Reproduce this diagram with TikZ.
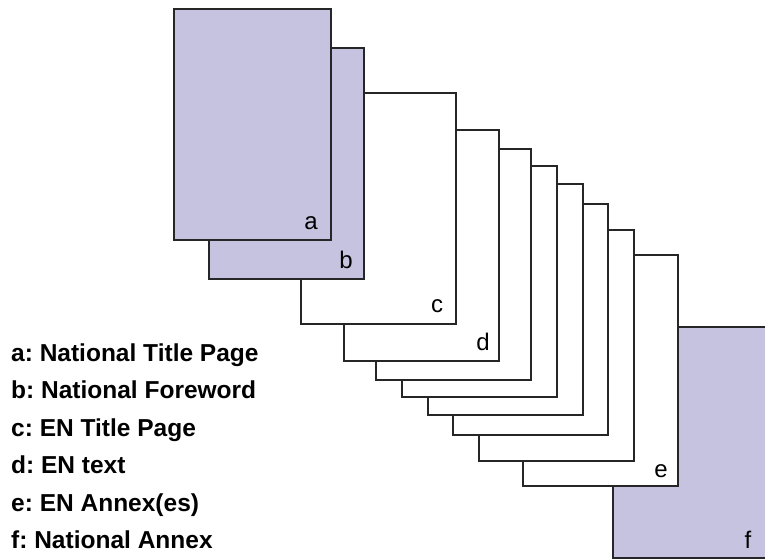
\documentclass[tikz,border=0pt]{standalone}
\usepackage{fontspec}
\setmainfont{Liberation Sans}
\usetikzlibrary{positioning}
\definecolor{national}{RGB}{197,195,224}
\frenchspacing

\begin{document}
\begin{tikzpicture}[x=1pt,y=-1pt,
    page/.style={rectangle,draw=black!85,line width=1.7pt,fill=white,anchor=north west,
                 inner sep=0pt,outer sep=0pt,minimum width=155pt,minimum height=231pt},
    nat page/.style={page,fill=national},
    letter/.style={anchor=base,inner sep=0pt,font=\fontsize{24}{24}\selectfont},
    key/.style={anchor=base west,inner sep=0pt,font=\fontsize{24.5}{24.5}\selectfont\bfseries}]
  \useasboundingbox (0,0) rectangle (765,559);

  % pages, back to front
  \node[nat page] (f)  at (613,327) {};
  \node[page]     (e)  at (523,255) {};
  \node[page]     (d5) at (479,230) {};
  \node[page]     (d4) at (453,204) {};
  \node[page]     (d3) at (428,184) {};
  \node[page]     (d2) at (402,166) {};
  \node[page]     (d1) at (376,149) {};
  \node[page]     (d)  at (344,130) {};
  \node[page]     (c)  at (301,93)  {};
  \node[nat page] (b)  at (209,48)  {};
  \node[nat page,minimum width=157pt] (a) at (174,9) {};

  % page letters
  \node[letter] (la) at ([xshift=-20pt,yshift=11pt]a.south east) {a};
  \node[letter] (lb) at ([xshift=-18pt,yshift=11pt]b.south east) {b};
  \node[letter] (lc) at ([xshift=-19pt,yshift=12pt]c.south east) {c};
  \node[letter] (ld) at ([xshift=-16pt,yshift=11pt]d.south east) {d};
  \node[letter] (le) at ([xshift=-17pt,yshift=9pt]e.south east)  {e};
  \node[letter] (lf) at ([xshift=-20pt,yshift=10pt]f.south east) {f};

  % key
  \node[key] (ka) at (11,361)   {a: National Title Page};
  \node[key] (kb) at (11,398.5) {b: National Foreword};
  \node[key] (kc) at (11,436)   {c: EN Title Page};
  \node[key] (kd) at (11,473.5) {d: EN text};
  \node[key] (ke) at (11,511)   {e: EN Annex(es)};
  \node[key] (kf) at (11,548.5) {f: National Annex};
\end{tikzpicture}
\end{document}
